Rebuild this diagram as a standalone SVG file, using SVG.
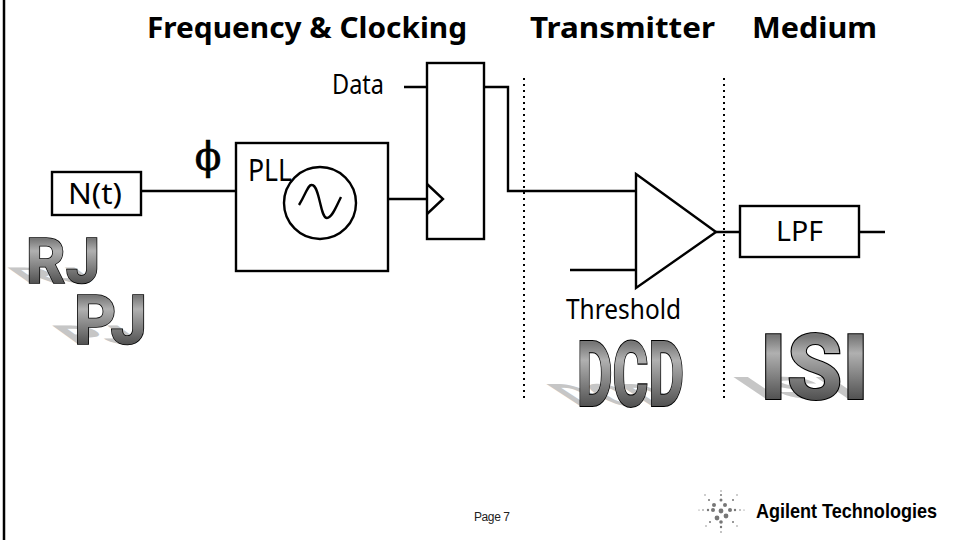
<svg xmlns="http://www.w3.org/2000/svg" width="956" height="540" viewBox="0 0 956 540">
<defs>
<linearGradient id="wa" x1="0" y1="0" x2="0" y2="1"><stop offset="0.2" stop-color="#777"/><stop offset="0.36" stop-color="#b0b0b0"/><stop offset="0.82" stop-color="#4c4c4c"/></linearGradient>
</defs>
<style>
.t{font-family:"Noto Sans","DejaVu Sans",sans-serif;fill:#000}
.title{font-size:29px;font-weight:700}
.ln{fill:none;stroke:#000;stroke-width:2.4}
.box{fill:#fff;stroke:#000;stroke-width:2.4}
.dot{fill:none;stroke:#000;stroke-width:2;stroke-dasharray:2 4}
.wa{font-family:Roboto,"Liberation Sans",Arial,sans-serif;font-weight:800;font-size:50px}
.face{fill:url(#wa);stroke:#000;stroke-width:1.2;paint-order:stroke}
.shadow{fill:#c6c6c6;stroke:none}
.dots{fill:#777}
</style>
<rect width="956" height="540" fill="#fff"/>
<path d="M4 0V540" stroke="#000" stroke-width="2.5"/>
<g id="titles">
<text class="t title" x="147" y="38" textLength="320" lengthAdjust="spacingAndGlyphs">Frequency &amp; Clocking</text>
<text class="t title" x="530" y="38" textLength="185" lengthAdjust="spacingAndGlyphs">Transmitter</text>
<text class="t title" x="752" y="38" textLength="125" lengthAdjust="spacingAndGlyphs">Medium</text>
</g>
<g id="connectors">
<path class="ln" d="M141 191H236M404 87H427M484 87H508V191H636M388 199H427M570 270H636M716 232H740M859 232H885"/>
<path class="dot" d="M524 78V398M724 78V398"/>
</g>
<g id="n-t"><rect class="box" x="52" y="172" width="89" height="43"/><text class="t" font-size="29" x="68" y="204" textLength="54" lengthAdjust="spacingAndGlyphs">N(t)</text></g>
<g id="phi"><text x="208" y="170" text-anchor="middle" font-family="'DejaVu Serif',serif" font-size="39" fill="#000" stroke="#000" stroke-width=".7">ϕ</text></g>
<g id="pll"><rect class="box" x="236" y="143" width="152" height="128"/><text class="t" font-size="30" x="248" y="181" textLength="44" lengthAdjust="spacingAndGlyphs">PLL</text><circle class="box" cx="320" cy="203" r="36"/><path class="ln" d="M299 205C306 194 308 184 312 185C320 186 320 218 327 218C332 218 336 207 341 197"/></g>
<g id="flipflop"><rect class="box" x="427" y="63" width="57" height="176"/><path class="ln" d="M427 184L443 199L427 214"/></g>
<g id="data-label"><text class="t" font-size="27" x="332" y="94" textLength="52" lengthAdjust="spacingAndGlyphs">Data</text></g>
<g id="amp"><path class="box" d="M636 174L716 232L636 288Z"/></g>
<g id="threshold-label"><text class="t" font-size="27" x="566" y="319" textLength="115" lengthAdjust="spacingAndGlyphs">Threshold</text></g>
<g id="lpf"><rect class="box" x="740" y="206" width="119" height="51"/><text class="t" font-size="28" x="776" y="241" textLength="47" lengthAdjust="spacingAndGlyphs">LPF</text></g>
<g id="rj">
<use class="shadow" href="#rjT" transform="matrix(1 0 .62 .44 26 283)"/>
<g class="face" transform="translate(26 283) scale(1 1.27)"><text id="rjT" class="wa" textLength="74" lengthAdjust="spacingAndGlyphs">RJ</text></g>
</g>
<g id="pj">
<use class="shadow" href="#pjT" transform="matrix(1 0 .72 .52 74 344)"/>
<g class="face" transform="translate(74 344) scale(1 1.38)"><text id="pjT" class="wa" textLength="73" lengthAdjust="spacingAndGlyphs">PJ</text></g>
</g>
<g id="dcd">
<use class="shadow" href="#dcdT" transform="matrix(1 0 .95 .62 577 406)"/>
<g class="face" transform="translate(577 406) scale(1 1.8)"><text id="dcdT" class="wa" textLength="107" lengthAdjust="spacingAndGlyphs">DCD</text></g>
</g>
<g id="isi">
<use class="shadow" href="#isiT" transform="matrix(1 0 .92 .62 760 399)"/>
<g class="face" transform="translate(760 399) scale(1 1.8)"><text id="isiT" class="wa" textLength="109" lengthAdjust="spacingAndGlyphs">ISI</text></g>
</g>
<g id="footer">
<text x="474" y="521" font-family="'Liberation Sans',Arial,sans-serif" font-size="12" fill="#222" textLength="36">Page 7</text>
</g>
<g id="logo">
<g class="dots">
<circle cx="721" cy="511" r="2.400"/><circle cx="714" cy="505" r="2"/><circle cx="725" cy="505" r="2"/><circle cx="717" cy="518" r="2.400"/><circle cx="726" cy="516" r="2.400"/><circle cx="713" cy="510" r="2"/><circle cx="730" cy="510" r="2"/><circle cx="721" cy="522" r="1.800"/><circle cx="721" cy="500" r="1.500"/><circle cx="721" cy="495" r="1"/><circle cx="721" cy="491" r=".7"/><circle cx="721" cy="527" r="1.200"/><circle cx="721" cy="532" r=".8"/>
<circle cx="708" cy="510" r="1.200"/><circle cx="703" cy="510" r=".8"/><circle cx="699" cy="510" r=".6"/><circle cx="735" cy="510" r="1.200"/><circle cx="740" cy="510" r=".8"/><circle cx="744" cy="510" r=".6"/>
<circle cx="709" cy="500" r="1"/><circle cx="705" cy="495" r=".7"/><circle cx="733" cy="500" r="1"/><circle cx="737" cy="495" r=".7"/><circle cx="710" cy="522" r="1"/><circle cx="706" cy="526" r=".7"/><circle cx="733" cy="522" r="1"/><circle cx="737" cy="526" r=".7"/>
</g>
<text transform="translate(756 518) scale(1 1.12)" font-family="'Liberation Sans',Arial,sans-serif" font-size="18.500" font-weight="700" fill="#000" textLength="181" lengthAdjust="spacingAndGlyphs">Agilent Technologies</text>
</g>
</svg>
